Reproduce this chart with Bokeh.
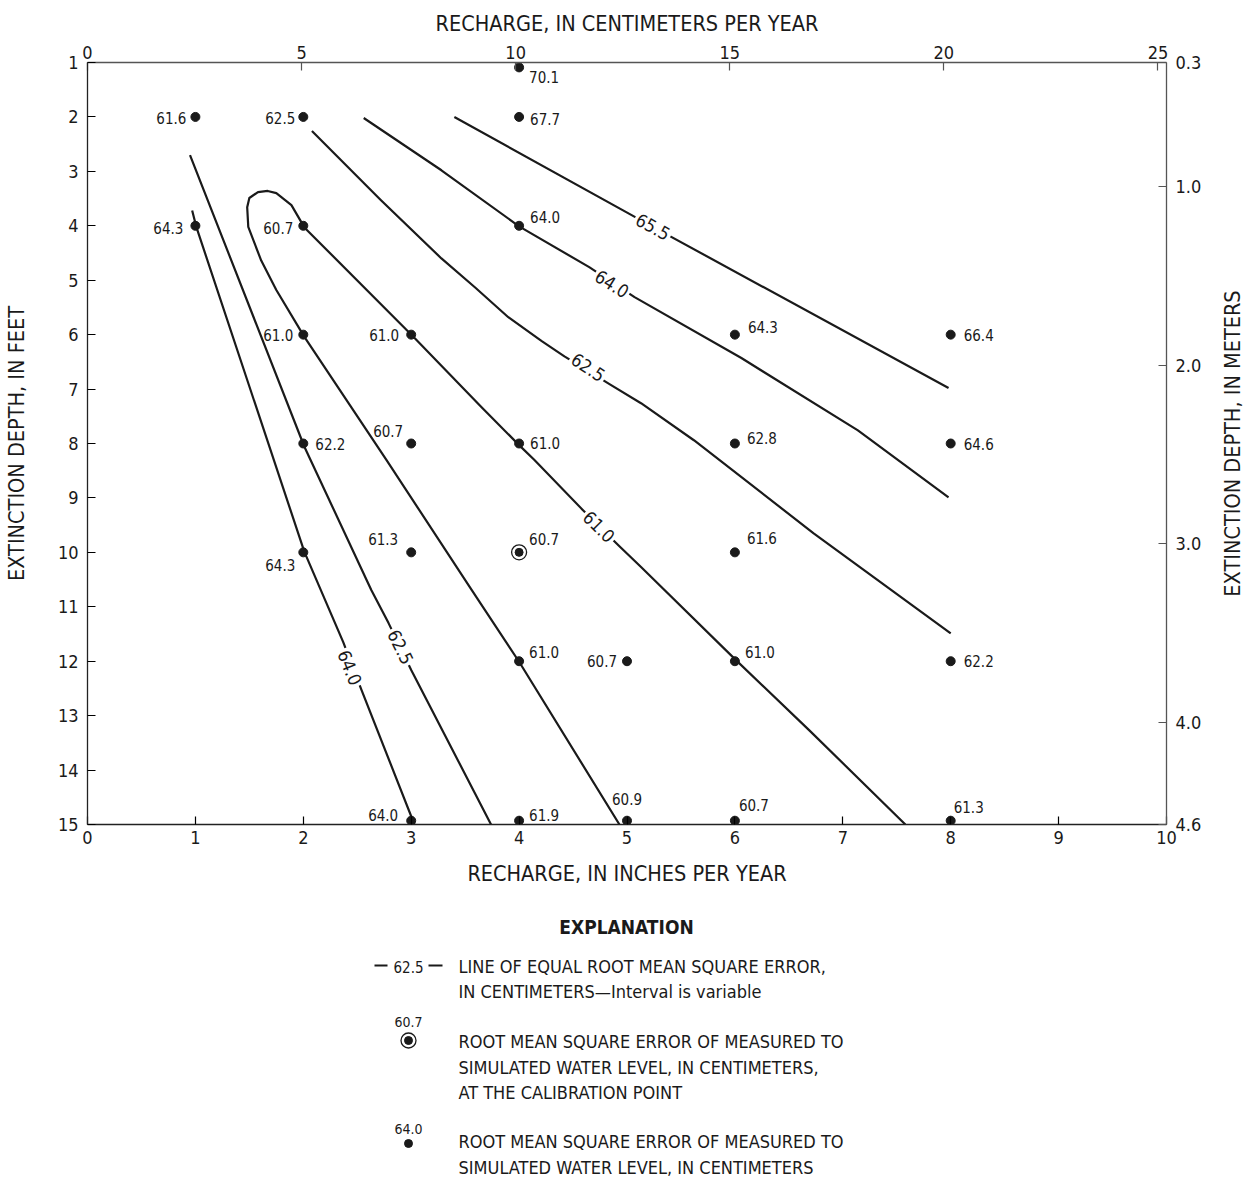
import math
from bokeh.plotting import figure
from bokeh.models import (Range1d, LinearAxis, FixedTicker, ColumnDataSource)
from bokeh.layouts import column, row
from bokeh.core.properties import value
from bokeh.embed import file_html
from bokeh.resources import INLINE

# ---------------- data (recharge in inches/yr, extinction depth in feet) ----------------
pt_x = [1, 2, 4, 4,
        1, 2, 4,
        2, 3, 6, 8,
        2, 3, 4, 6, 8,
        2, 3, 6,
        4, 5, 6, 8,
        3, 4, 5, 6, 8]
pt_y = [2, 2, 1.09, 2,
        4, 4, 4,
        6, 6, 6, 6,
        8, 8, 8, 8, 8,
        10, 10, 10,
        12, 12, 12, 12,
        14.93, 14.93, 14.93, 14.93, 14.93]
pt_rmse = [61.6, 62.5, 70.1, 67.7,
           64.3, 60.7, 64.0,
           61.0, 61.0, 64.3, 66.4,
           62.2, 60.7, 61.0, 62.8, 64.6,
           64.3, 61.3, 61.6,
           61.0, 60.7, 61.0, 62.2,
           64.0, 61.9, 60.9, 60.7, 61.3]

calib_x = [4]
calib_y = [10]
calib_rmse = [60.7]

# contour lines of equal RMSE (cm)
c655_x = [3.40, 5.24, 7.98]
c655_y = [2.00, 4.02, 6.98]

c640a_x = [2.56, 3.28, 4.00, 4.65, 5.07, 6.06, 7.14, 7.98]
c640a_y = [2.02, 2.98, 4.01, 4.76, 5.31, 6.43, 7.76, 8.99]

c625a_x = [2.08, 2.72, 3.28, 3.59, 3.90, 4.21, 4.42, 4.62, 4.83, 5.13, 5.62, 6.73, 8.00]
c625a_y = [2.26, 3.53, 4.60, 5.13, 5.68, 6.12, 6.40, 6.64, 6.90, 7.26, 7.94, 9.65, 11.49]

c610_x = [4.93, 4.00, 3.56, 2.77, 2.01, 1.75, 1.61, 1.49, 1.48, 1.50, 1.58, 1.67, 1.75, 1.89,
          2.01, 3.02, 3.65, 4.00, 4.14, 4.59, 4.92, 5.13, 6.01, 6.69, 7.58]
c610_y = [15.0, 12.01, 10.69, 8.30, 6.04, 5.18, 4.64, 4.02, 3.66, 3.49, 3.38, 3.36, 3.40, 3.62,
          4.03, 6.04, 7.33, 8.03, 8.30, 9.22, 9.87, 10.27, 11.98, 13.27, 15.0]

c625b_x = [0.95, 2.01, 2.63, 2.79, 3.00, 3.74]
c625b_y = [2.70, 8.06, 10.69, 11.30, 12.16, 15.0]

c640b_x = [0.97, 1.01, 2.01, 2.37, 2.54, 3.03]
c640b_y = [3.72, 4.03, 9.99, 11.65, 12.53, 15.0]

contour_label_text = ["65.5", "64.0", "62.5", "61.0", "62.5", "64.0"]
contour_label_x = [5.24, 4.86, 4.64, 4.74, 2.90, 2.43]
contour_label_y = [4.02, 5.07, 6.60, 9.53, 11.74, 12.12]

x_ticks = [0, 1, 2, 3, 4, 5, 6, 7, 8, 9, 10]
y_ticks = list(range(1, 16))
cm_ticks = [0, 5, 10, 15, 20, 25]
FT_TO_M = 0.3048
m_top = 1 * FT_TO_M
m_bot = 15 * FT_TO_M
m_ticks = [m_top, 1.0, 2.0, 3.0, 4.0, m_bot]

# ---------------- styling ----------------
FONT = "'Liberation Sans Narrow', 'DejaVu Sans Condensed', sans-serif"
INK = "#1a1a1a"

# label placement (screen px) for each point label: align, dx, dy
pt_align = ["right", "right", "left", "left",
            "right", "right", "left",
            "right", "right", "left", "left",
            "left", "right", "left", "left", "left",
            "right", "right", "left",
            "left", "right", "left", "left",
            "right", "left", "center", "left", "left"]
pt_dx = [-9, -8, 10, 11,
         -12, -10, 11,
         -10, -12, 13, 13,
         12, -8, 11, 12, 13,
         -8, -13, 12,
         10, -10, 10, 13,
         -13, 10, 0, 4, 3]
pt_dy = [1, 1, 10, 2,
         2, 2, -9,
         0, 0, -8, 0,
         0, -13, -1, -6, 0,
         13, -13, -14,
         -9, 0, -9, 0,
         -6, -6, -22, -16, -14]
contour_label_angle = [-0.503, -0.555, -0.59, -0.785, -1.115, -1.19]

PAGE_W = 1252
SIDE_W = 40
FRAME_L, FRAME_R = 86, 1166
W, H = PAGE_W - SIDE_W, 890
BL, BR, BT, BB = FRAME_L, W - FRAME_R, 62, 66

p = figure(width=W, height=H,
           x_range=Range1d(0, 10), y_range=Range1d(15, 1),
           output_backend="svg", toolbar_location=None,
           min_border_left=BL, min_border_right=BR,
           min_border_top=BT, min_border_bottom=BB)
p.outline_line_color = None
p.grid.visible = False
p.background_fill_color = "white"

p.extra_x_ranges = {"cm": Range1d(0, 25.2)}
p.extra_y_ranges = {"m": Range1d(m_bot, m_top)}

bottom_axis = p.below[0]
left_axis = p.left[0]

top_axis = LinearAxis(x_range_name="cm", axis_label="RECHARGE, IN CENTIMETERS PER YEAR")
top_axis.ticker = FixedTicker(ticks=cm_ticks)
p.add_layout(top_axis, "above")

right_axis = LinearAxis(y_range_name="m")
right_axis.ticker = FixedTicker(ticks=m_ticks)
right_axis.major_label_overrides = {m_top: "0.3", 1.0: "1.0", 2.0: "2.0", 3.0: "3.0",
                                    4.0: "4.0", m_bot: "4.6"}
p.add_layout(right_axis, "right")

bottom_axis.axis_label = "RECHARGE, IN INCHES PER YEAR"
bottom_axis.ticker = FixedTicker(ticks=x_ticks)
left_axis.axis_label = "EXTINCTION DEPTH, IN FEET"
left_axis.ticker = FixedTicker(ticks=y_ticks)

for ax in [bottom_axis, left_axis, top_axis, right_axis]:
    ax.major_tick_in = 8
    ax.major_tick_out = 0
    ax.minor_tick_line_color = None
    ax.axis_line_width = 1.3
    ax.major_tick_line_width = 1.2
    ax.major_label_text_font = FONT
    ax.major_label_text_font_size = "18px"
    ax.major_label_text_color = INK
    ax.axis_label_text_font = FONT
    ax.axis_label_text_font_size = "21.5px"
    ax.axis_label_text_font_style = "normal"
    ax.axis_label_text_color = INK

bottom_axis.axis_line_color = "#222222"
left_axis.axis_line_color = "#222222"
top_axis.axis_line_color = "#555555"
right_axis.axis_line_color = "#555555"
top_axis.major_tick_line_color = "#555555"
right_axis.major_tick_line_color = "#555555"

bottom_axis.major_label_standoff = 6
bottom_axis.axis_label_standoff = 14
top_axis.major_label_standoff = 4
top_axis.axis_label_standoff = 7
left_axis.major_label_standoff = 9
left_axis.axis_label_standoff = 26
right_axis.major_label_standoff = 9

# contours
for cx, cy in [(c655_x, c655_y), (c640a_x, c640a_y), (c625a_x, c625a_y),
               (c610_x, c610_y), (c625b_x, c625b_y), (c640b_x, c640b_y)]:
    p.line(cx, cy, line_color=INK, line_width=2.2, line_join="round")

p.text(x=contour_label_x, y=contour_label_y, text=contour_label_text,
       angle=contour_label_angle, text_align="center", text_baseline="middle",
       text_font=value(FONT), text_font_size="18px", text_color=INK,
       background_fill_color="white", padding=2)

# points
p.scatter(pt_x, pt_y, size=9, color=INK)
p.scatter(calib_x, calib_y, size=15, fill_color=None, line_color=INK, line_width=1.3)
p.scatter(calib_x, calib_y, size=8, color=INK)

for al in ["left", "right", "center"]:
    idx = [i for i, a in enumerate(pt_align) if a == al]
    src = ColumnDataSource(dict(
        x=[pt_x[i] for i in idx], y=[pt_y[i] for i in idx],
        t=["%.1f" % pt_rmse[i] for i in idx],
        dx=[pt_dx[i] for i in idx], dy=[pt_dy[i] for i in idx]))
    p.text(x="x", y="y", text="t", x_offset="dx", y_offset="dy", source=src,
           text_align=al, text_baseline="middle", text_font=value(FONT),
           text_font_size="15px", text_color=INK)

p.text(x=calib_x, y=calib_y, text=["%.1f" % v for v in calib_rmse], x_offset=10, y_offset=-13,
       text_align="left", text_baseline="middle", text_font=value(FONT),
       text_font_size="15px", text_color=INK)

# ---------------- right-side title strip (reads bottom-to-top) ----------------
s = figure(width=SIDE_W, height=H, x_range=Range1d(0, 1), y_range=Range1d(0, 1),
           output_backend="svg", toolbar_location=None,
           min_border_left=0, min_border_right=0, min_border_top=BT, min_border_bottom=BB)
s.axis.visible = False
s.grid.visible = False
s.outline_line_color = None
s.text(x=[0.5], y=[0.5], text=["EXTINCTION DEPTH, IN METERS"], angle=math.pi / 2,
       text_align="center", text_baseline="middle", text_font=value(FONT),
       text_font_size="21.5px", text_color=INK)

# ---------------- explanation (coordinates in page pixels) ----------------
W2, H2 = PAGE_W, 290
e = figure(width=W2, height=H2, x_range=Range1d(FRAME_L, FRAME_R), y_range=Range1d(H2, 0),
           output_backend="svg", toolbar_location=None,
           min_border_left=FRAME_L, min_border_right=PAGE_W - FRAME_R,
           min_border_top=0, min_border_bottom=0)
e.axis.visible = False
e.grid.visible = False
e.outline_line_color = None

e.text(x=[626], y=[36], text=["EXPLANATION"], text_align="center", text_baseline="middle",
       text_font=value(FONT), text_font_size="19px", text_font_style="bold", text_color=INK)

e.segment(x0=[374, 428], y0=[75, 75], x1=[387, 442], y1=[75, 75], line_color=INK, line_width=2.2)
e.text(x=[408], y=[76], text=["62.5"], text_align="center", text_baseline="middle",
       text_font=value(FONT), text_font_size="15px", text_color=INK)

expl_lines = ["LINE OF EQUAL ROOT MEAN SQUARE ERROR,",
              "IN CENTIMETERS\u2014Interval is variable",
              "ROOT MEAN SQUARE ERROR OF MEASURED TO",
              "SIMULATED WATER LEVEL, IN CENTIMETERS,",
              "AT THE CALIBRATION POINT",
              "ROOT MEAN SQUARE ERROR OF MEASURED TO",
              "SIMULATED WATER LEVEL, IN CENTIMETERS"]
expl_y = [76, 101, 151, 177, 202, 251, 277]
e.text(x=[458] * len(expl_lines), y=expl_y, text=expl_lines, text_align="left",
       text_baseline="middle", text_font=value(FONT), text_font_size="18px", text_color=INK)

e.text(x=[408, 408], y=[131, 238], text=["60.7", "64.0"], text_align="center",
       text_baseline="middle", text_font=value(FONT), text_font_size="14px", text_color=INK)
e.scatter([408], [150], size=15, fill_color=None, line_color=INK, line_width=1.3)
e.scatter([408, 408], [150, 253], size=8, color=INK)

layout = column(row(p, s, spacing=0), e, spacing=0)
open("out.html", "w").write(file_html(layout, INLINE))
